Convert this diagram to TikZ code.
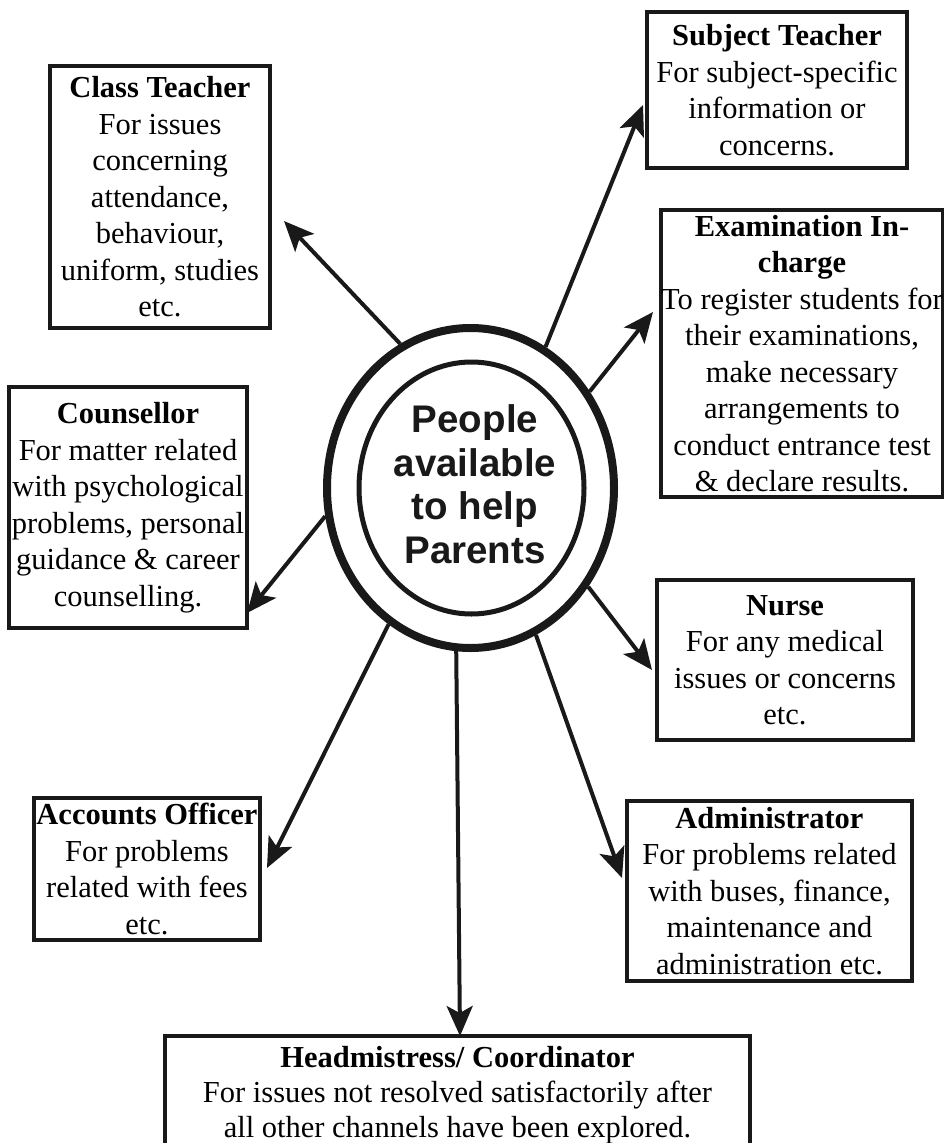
\documentclass[tikz,border=0pt]{standalone}
\usepackage{fontspec}
\setmainfont{Liberation Serif}
\newfontfamily\hubfont{Liberation Sans}
\usetikzlibrary{arrows.meta,shapes.geometric}
\begin{document}
\begin{tikzpicture}[x=1pt,y=-1pt,
  box/.style={draw=black!90, line width=4pt, rectangle, inner sep=0pt, align=center,
    font=\fontsize{30.5}{36.5}\selectfont},
  link/.style={draw=black!90, line width=4pt, -{Stealth[length=30pt,width=26pt,inset=7pt]}},
  hubring/.style={ellipse, draw=black!90, inner sep=0pt},
]
\useasboundingbox (0,0) rectangle (943,1143);

% central hub
\node[hubring, line width=8pt, minimum width=287pt, minimum height=320pt] (hub) at (470.5,488) {};
\node[hubring, line width=5pt, minimum width=225pt, minimum height=252pt] (hubin) at (471.5,488) {};
\node[align=center, inner sep=0pt, text=black!90,
  font=\hubfont\bfseries\fontsize{38.5}{43.5}\selectfont] (hubtext) at (475,484)
  {People\\available\\to help\\Parents};

% boxes
\node[box, minimum width=260pt, minimum height=156pt] (st) at (777,90)
  {\textbf{Subject Teacher}\\For subject-specific\\information or\\concerns.};
\node[box, minimum width=220pt, minimum height=262pt] (ct) at (160,197)
  {\textbf{Class Teacher}\\For issues\\concerning\\attendance,\\behaviour,\\uniform, studies\\etc.};
\node[box, minimum width=282pt, minimum height=287pt] (ex) at (802,353.5)
  {\textbf{Examination In-}\\\textbf{charge}\\\makebox[0pt]{To register students for}\\their examinations,\\make necessary\\arrangements to\\conduct entrance test\\\& declare results.};
\node[box, minimum width=238pt, minimum height=241pt] (co) at (128,507.5)
  {\textbf{Counsellor}\\For matter related\\with psychological\\problems, personal\\guidance \& career\\counselling.};
\node[box, minimum width=256pt, minimum height=160pt] (nu) at (785,660)
  {\textbf{Nurse}\\For any medical\\issues or concerns\\etc.};
\node[box, minimum width=226pt, minimum height=142pt] (ac) at (147,869)
  {\textbf{Accounts Officer}\\For problems\\related with fees\\etc.};
\node[box, minimum width=285pt, minimum height=180pt] (ad) at (769.5,891)
  {\textbf{Administrator}\\For problems related\\with buses, finance,\\maintenance and\\administration etc.};
\node[box, minimum width=585pt, minimum height=118pt,
  font=\fontsize{30.5}{35}\selectfont] (hm) at (457.5,1095)
  {\textbf{Headmistress/ Coordinator}\\For issues not resolved satisfactorily after\\all other channels have been explored.};

% arrow tips
\coordinate (tct) at (284,221);
\coordinate (tst) at (643,105);
\coordinate (tex) at (653,312);
\coordinate (tco) at (247,613);
\coordinate (tnu) at (652,670);
\coordinate (tac) at (267,868);
\coordinate (thm) at (460,1036);
\coordinate (tad) at (622,878);

\draw[link] (hub.116) -- (tct);
\draw[link] (hub.62) -- (tst);
\draw[link] (hub.39) -- (tex);
\draw[link] (hub.191) -- (tco);
\draw[link] (hub.320) -- (tnu);
\draw[link] (hub.239) -- (tac);
\draw[link] (hub.265) -- (thm);
\draw[link] (hub.294) -- (tad);
\end{tikzpicture}
\end{document}
